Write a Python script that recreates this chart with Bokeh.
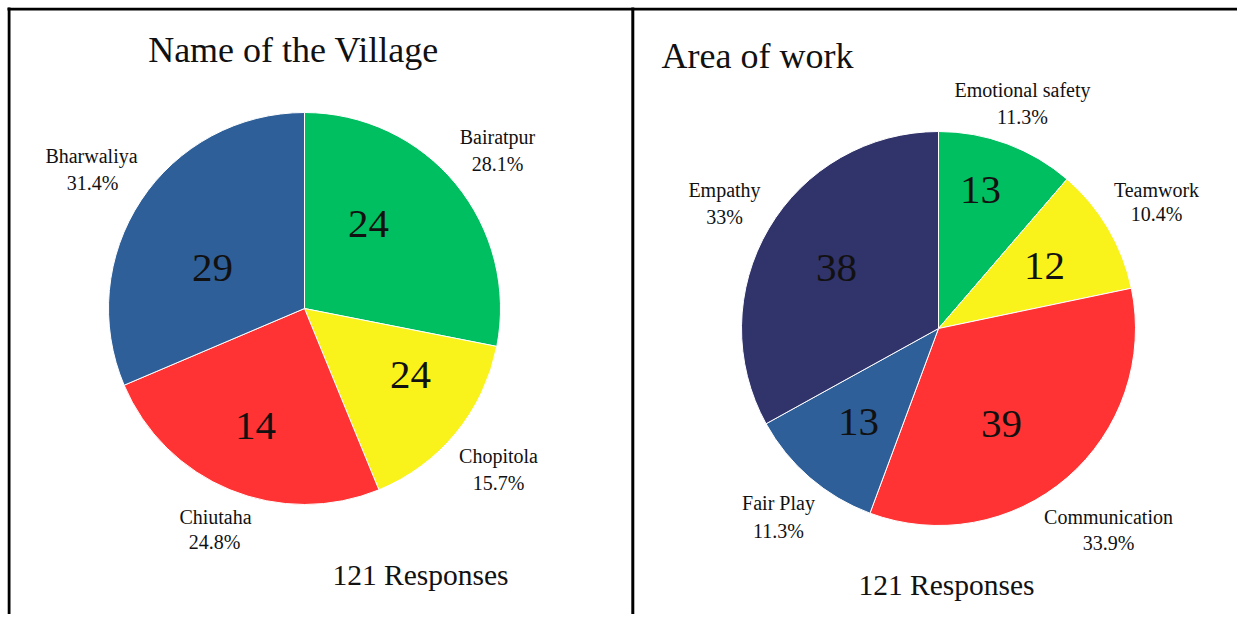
import numpy as np
from bokeh.plotting import figure
from bokeh.models import Range1d, ColumnDataSource
from bokeh.core.properties import value
from bokeh.embed import file_html
from bokeh.resources import INLINE

# ---- data ----
village_names = ["Bairatpur", "Chopitola", "Chiutaha", "Bharwaliya"]
village_pct = [28.1, 15.7, 24.8, 31.4]
village_counts = ["24", "24", "14", "29"]
village_title = "Name of the Village"

area_names = ["Emotional safety", "Teamwork", "Communication", "Fair Play", "Empathy"]
area_pct = [11.3, 10.4, 33.9, 11.3, 33.0]
area_counts = ["13", "12", "39", "13", "38"]
area_title = "Area of work"

responses_text = "121 Responses"

# ---- styles / layout ----
village_colors = ["#00BF60", "#F9F31B", "#FF3333", "#2F5F98"]
area_colors = ["#00BF60", "#F9F31B", "#FF3333", "#2F5F98", "#31336B"]
FONT = value("Liberation Serif")
TXT = "#111111"
W, H = 1237, 614


def Y(s):
    return H - s


p = figure(width=W, height=H, x_range=Range1d(0, W), y_range=Range1d(0, H),
           output_backend="svg", toolbar_location=None, min_border=0)
p.axis.visible = False
p.grid.visible = False
p.outline_line_color = None
p.background_fill_color = "white"
p.border_fill_color = "white"

# frame lines
p.line([8.6, 8.6], [Y(7), Y(640)], line_color="black", line_width=2.8)
p.line([7, 1260], [Y(8.6), Y(8.6)], line_color="black", line_width=2.8)
p.line([632.3, 632.3], [Y(7), Y(640)], line_color="black", line_width=3)


def pie(cx, cy, r, pct, colors):
    pct = np.asarray(pct, dtype=float)
    frac = pct / pct.sum()
    cum = np.concatenate([[0], np.cumsum(frac)])
    start = np.pi / 2 - 2 * np.pi * cum[:-1]
    end = np.pi / 2 - 2 * np.pi * cum[1:]
    src = ColumnDataSource(dict(start=start, end=end, color=colors))
    p.wedge(x=cx, y=Y(cy), radius=r, start_angle="start", end_angle="end",
            direction="clock", fill_color="color", line_color="white", line_width=1,
            source=src)


def fmt_pct(v):
    s = ("%.1f" % v).rstrip("0").rstrip(".")
    return s + "%"


def labels(texts, xs, ys, size, align="center"):
    p.text(x=xs, y=[Y(v) for v in ys], text=texts, text_font=FONT,
           text_font_size=size, text_align=align, text_baseline="middle",
           text_color=TXT)


# ---- left chart ----
pie(304, 308, 196, village_pct, village_colors)
labels([village_title], [293], [49], "36px")
labels(village_counts, [368, 410, 255, 212], [223, 374, 425, 267], "41px")
labels(village_names, [497, 498, 215, 91], [136, 455, 516, 155], "20px")
labels([fmt_pct(v) for v in village_pct], [497, 498, 214, 92], [163, 482, 541, 182], "20px")
labels([responses_text], [420], [574], "29.5px")

# ---- right chart ----
pie(938, 328, 197, area_pct, area_colors)
labels([area_title], [661], [55], "36px", align="left")
labels(area_counts, [980, 1044, 1001, 858, 836], [189, 265, 423, 421, 267], "41px")
labels(area_names, [1022, 1156, 1108, 778, 724], [89, 189, 516, 502, 189], "20px")
labels([fmt_pct(v) for v in area_pct], [1022, 1156, 1108, 778, 724], [116, 213, 542, 530, 216], "20px")
labels([responses_text], [946], [584], "29.5px")

open("out.html", "w").write(file_html(p, INLINE))
